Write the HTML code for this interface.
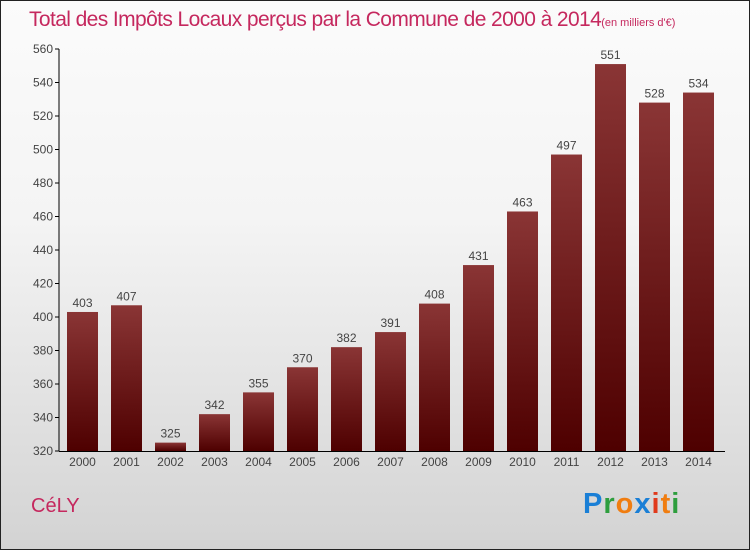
<!DOCTYPE html>
<html><head><meta charset="utf-8"><style>
body{margin:0;width:750px;height:550px;overflow:hidden;font-family:"Liberation Sans",sans-serif}
#wrap{position:absolute;left:0;top:0;width:748px;height:548px;border:1px solid #222;background:linear-gradient(#fbfbfb,#f4f4f4 40%,#d3d3d3)}
#title{position:absolute;left:28px;top:7px;font-size:21px;color:#c5285e;white-space:nowrap;letter-spacing:-0.6px}
#title small{font-size:11px;letter-spacing:0}
#city{position:absolute;left:30px;top:494px;font-size:20px;color:#c5285e}
#logo{position:absolute;left:582px;top:487px;font-size:29px;font-weight:bold;letter-spacing:1px}
</style></head><body>
<div id="wrap">
<div id="title">Total des Impôts Locaux perçus par la Commune de 2000 à 2014<small>(en milliers d'€)</small></div>
<svg id="chart" width="750" height="550" style="position:absolute;left:-1px;top:-1px"></svg>
<div id="city">CéLY</div>
<div id="logo"><span style="color:#1a7fd6">P</span><span style="color:#2e9e3e">r</span><span style="color:#f07d10">o</span><span style="color:#1a7fd6">x</span><span style="color:#e03a1c">i</span><span style="color:#f07d10">t</span><span style="color:#2e9e3e">i</span></div>
</div>
<script>
const years=["2000","2001","2002","2003","2004","2005","2006","2007","2008","2009","2010","2011","2012","2013","2014"];
const values=[403,407,325,342,355,370,382,391,408,431,463,497,551,528,534];
const ticks=[320,340,360,380,400,420,440,460,480,500,520,540,560];
const NS="http://www.w3.org/2000/svg";
const svg=document.getElementById('chart');
const y0=451,y1=49,vmin=320,vmax=560,x0=59;
const yS=v=>y0-(v-vmin)/(vmax-vmin)*(y0-y1);
const xC=i=>82.5+44*i;
function mk(t,a){const e=document.createElementNS(NS,t);for(const k in a)e.setAttribute(k,a[k]);svg.appendChild(e);return e;}
const defs=mk('defs',{});
defs.innerHTML='<linearGradient id="bg" x1="0" y1="0" x2="0" y2="1"><stop offset="0" stop-color="#8a3535"/><stop offset="1" stop-color="#4e0000"/></linearGradient>';
ticks.forEach(t=>{
 const tk=mk('line',{x1:x0-4,x2:x0,y1:yS(t),y2:yS(t),stroke:'#000'});
 
 
 const l=mk('text',{x:x0-6,y:yS(t)+4,'text-anchor':'end','font-size':12,fill:'#444'});
 l.textContent=t;
 
 
});
values.forEach((v,i)=>{
 const r=mk('rect',{x:xC(i)-15.5,y:yS(v),width:31,height:y0-yS(v),fill:'url(#bg)'});
 
 
 const t=mk('text',{x:xC(i),y:yS(v)-5,'text-anchor':'middle','font-size':12,fill:'#444'});
 t.textContent=v;
 
 
 const xl=mk('text',{x:xC(i),y:466,'text-anchor':'middle','font-size':12,fill:'#444'});
 xl.textContent=years[i];
 
 
});
const ya=mk('line',{x1:x0,x2:x0,y1:y1,y2:y0,stroke:'#000'});


const xa=mk('line',{x1:x0,x2:725,y1:y0+0.5,y2:y0+0.5,stroke:'#000'});


</script>
</body></html>
